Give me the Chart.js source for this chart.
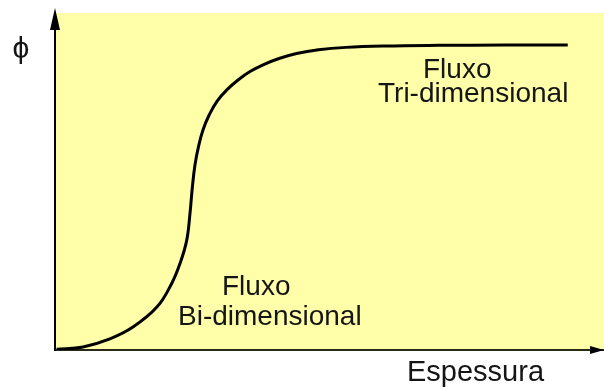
<!DOCTYPE html>
<html>
<head>
<meta charset="utf-8">
<script src="https://cdn.jsdelivr.net/npm/chart.js@4/dist/chart.umd.min.js"></script>
<style>
  html, body { margin: 0; padding: 0; background: #fff; }
  #wrap { width: 604px; height: 391px; }
</style>
</head>
<body>
<div id="wrap"><canvas id="fluxChart" width="604" height="391"></canvas></div>
<script>
// espessura (x) vs fator de forma phi (y), unidades relativas 0..100
const espessura = [0.3, 5.1, 10.0, 14.2, 18.6, 21.3, 22.8, 24.0, 24.6, 25.0, 25.5, 26.2, 27.0, 28.1, 29.5, 31.3, 33.4, 35.6, 38.0, 40.8, 44.0, 48.0, 53.0, 60.0, 70.0, 82.0, 93.4];
const phi = [0.2, 0.9, 3.3, 6.8, 12.8, 19.9, 25.8, 32.6, 40.7, 48.0, 55.0, 60.8, 65.5, 69.8, 73.8, 77.2, 80.2, 82.7, 84.7, 86.5, 88.0, 89.1, 89.8, 90.2, 90.4, 90.5, 90.5];

const axisTitles = { x: "Espessura", y: "ϕ" };
const regionLabels = [
  ["Fluxo", "Tri-dimensional"],
  ["Fluxo", "Bi-dimensional"]
];

const points = espessura.map((x, i) => ({ x: x, y: phi[i] }));

const FONT = '"Liberation Sans", Arial, sans-serif';
const INK = "#151515";

// fundo amarelo, setas dos eixos e textos
const decor = {
  id: "decor",
  beforeDraw(chart) {
    const { ctx, chartArea: a } = chart;
    ctx.save();
    ctx.fillStyle = "#ffffaa";
    ctx.fillRect(a.left + 1, a.top, a.right - a.left, a.bottom - a.top - 1);
    ctx.restore();
  },
  afterDraw(chart) {
    const { ctx, chartArea: a } = chart;
    ctx.save();
    ctx.fillStyle = "#000";
    // seta vertical
    ctx.beginPath();
    ctx.moveTo(a.left, a.top - 5);
    ctx.lineTo(a.left - 5, a.top + 17);
    ctx.lineTo(a.left + 5, a.top + 17);
    ctx.closePath();
    ctx.fill();
    // seta horizontal
    ctx.beginPath();
    ctx.moveTo(a.right, a.bottom);
    ctx.lineTo(a.right - 14, a.bottom - 4);
    ctx.lineTo(a.right - 14, a.bottom + 4);
    ctx.closePath();
    ctx.fill();

    ctx.fillStyle = INK;
    ctx.textBaseline = "alphabetic";
    ctx.textAlign = "left";
    ctx.font = "28px " + FONT;
    ctx.fillText(regionLabels[0][0], 423, 78);
    ctx.fillText(regionLabels[0][1], 378, 102);
    ctx.fillText(regionLabels[1][0], 222, 295);
    ctx.fillText(regionLabels[1][1], 178, 325);

    ctx.font = "29px " + FONT;
    ctx.fillText(axisTitles.x, 407, 381);

    ctx.textAlign = "center";
    ctx.textBaseline = "middle";
    ctx.font = "30px " + FONT;
    ctx.fillText(axisTitles.y, 21, 50);
    ctx.restore();
  }
};

new Chart(document.getElementById("fluxChart"), {
  type: "line",
  data: {
    datasets: [{
      data: points,
      borderColor: "#000",
      borderWidth: 3,
      pointRadius: 0,
      tension: 0.4,
      fill: false
    }]
  },
  options: {
    responsive: false,
    animation: false,
    layout: { padding: { left: 55, top: 13, right: 0, bottom: 41 } },
    plugins: { legend: { display: false }, tooltip: { enabled: false } },
    scales: {
      x: {
        type: "linear",
        min: 0,
        max: 100,
        ticks: { display: false },
        grid: { display: false, drawTicks: false },
        border: { display: true, color: "#2a2a1a", width: 2 }
      },
      y: {
        type: "linear",
        min: 0,
        max: 100,
        ticks: { display: false },
        grid: { display: false, drawTicks: false },
        border: { display: true, color: "#000", width: 2 }
      }
    }
  },
  plugins: [decor]
});
</script>
</body>
</html>
